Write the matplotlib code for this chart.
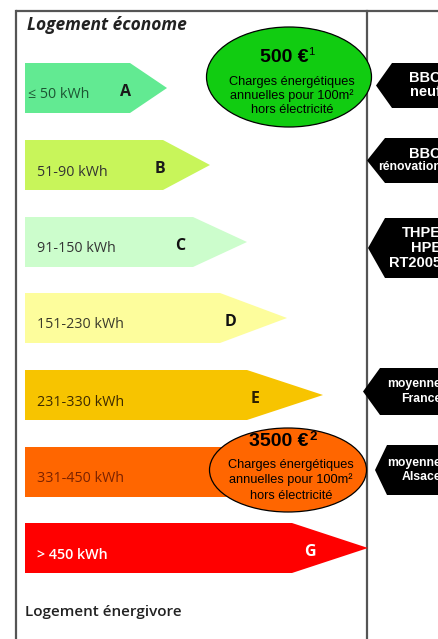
import matplotlib
matplotlib.use("Agg")
import matplotlib.pyplot as plt
from matplotlib.patches import Polygon, Ellipse

# ---- data ----
classes = ["A", "B", "C", "D", "E", "F", "G"]
ranges = ["≤ 50 kWh", "51-90 kWh", "91-150 kWh", "151-230 kWh",
          "231-330 kWh", "331-450 kWh", "> 450 kWh"]
fill_colors = ["#62ea92", "#c8f55a", "#ccfdcc", "#fdfd9c", "#f7c400", "#ff6600", "#ff0000"]
range_colors = ["#1d5533", "#333333", "#333333", "#3a3a2a", "#3d2a00", "#7a2200", "#ffffff"]
letter_colors = ["#1a1a1a", "#1a1a1a", "#111111", "#111111", "#2a1e00", "#2a1000", "#ffffff"]

markers = [["BBC", "neuf"], ["BBC", "rénovation"], ["THPE", "HPE", "RT2005"],
           ["moyenne", "France"], ["moyenne", "Alsace"]]
bubble_amounts = ["500 €", "3500 €"]
bubble_notes = ["1", "2"]
bubble_text = ["Charges énergétiques", "annuelles pour 100m²", "hors électricité"]
title_top = "Logement économe"
title_bottom = "Logement énergivore"

# ---- layout (pixel space) ----
W, H = 438, 639
arrow_top = [63, 140, 217, 293, 370, 447, 523]
arrow_h = 50
arrow_left = 25
body_end = [130, 163, 193, 220, 247, 270, 292]
tip_x = [167, 210, 247, 287, 323, 346, 368]
letter_x = [125, 160, 180, 230, 255, 282, 310]
label_x = [28, 37, 37, 37, 37, 37, 37]

marker_top = [63, 138, 218, 368, 445]
marker_bot = [108, 183, 278, 415, 495]
marker_tip = [376, 367, 368, 363, 375]
marker_corner = [392, 385, 385, 380, 387]

fig = plt.figure(figsize=(W / 100, H / 100), dpi=100)
ax = fig.add_axes([0, 0, 1, 1])
ax.set_xlim(0, W)
ax.set_ylim(H, 0)
ax.axis("off")
fig.patch.set_facecolor("white")

# frame
ax.plot([16, W], [11, 11], color="#555555", lw=1.6, solid_capstyle="butt")
ax.plot([16, 16], [11, H], color="#555555", lw=1.6)
ax.plot([367, 367], [11, H], color="#555555", lw=1.6)

ax.text(27, 25, title_top, fontsize=12.5, fontweight="bold", fontstyle="italic",
        family="Open Sans", color="#222222", va="center", ha="left")
ax.text(25, 612, title_bottom, fontsize=11, fontweight="semibold",
        family="Open Sans", color="#222222", va="center", ha="left")

for i, c in enumerate(classes):
    t = arrow_top[i]
    b = t + arrow_h
    m = (t + b) / 2
    poly = Polygon([(arrow_left, t), (body_end[i], t), (tip_x[i], m),
                    (body_end[i], b), (arrow_left, b)], closed=True,
                   facecolor=fill_colors[i], edgecolor="none", zorder=2)
    ax.add_patch(poly)
    ax.text(label_x[i], m + 7, ranges[i], fontsize=10.3, family="Open Sans",
            color=range_colors[i], ha="left", va="center", zorder=3,
            fontweight="semibold" if i == 6 else "normal")
    ax.text(letter_x[i], m + 4, c, fontsize=11.5, fontweight="bold", family="Open Sans",
            color=letter_colors[i], ha="center", va="center", zorder=3)

# marker arrows on right
for j, lines in enumerate(markers):
    t, b = marker_top[j], marker_bot[j]
    m = (t + b) / 2
    poly = Polygon([(marker_corner[j], t), (W + 5, t), (W + 5, b),
                    (marker_corner[j], b), (marker_tip[j], m)], closed=True,
                   facecolor="black", edgecolor="none", zorder=2)
    ax.add_patch(poly)
    n = len(lines)
    step = 14 if n == 2 else 15
    y0 = m - step * (n - 1) / 2
    for k, s in enumerate(lines):
        small = s in ("rénovation", "moyenne", "France", "Alsace")
        ax.text(W + 3, y0 + k * step, s, fontsize=8.8 if small else 10.5,
                fontweight="bold", family="Liberation Sans", color="white",
                ha="right", va="center", zorder=3)

# bubbles
bubbles = [dict(cx=289, cy=77, w=165, h=100, color="#11cc11", amt_y=57, note_x=311,
                text_y=[82, 96, 110]),
           dict(cx=288, cy=470, w=157, h=84, color="#ff6600", amt_y=442, note_x=313,
                text_y=[465, 480, 496])]
for bi, bd in enumerate(bubbles):
    e = Ellipse((bd["cx"], bd["cy"]), bd["w"], bd["h"], facecolor=bd["color"],
                edgecolor="black", lw=0.9, zorder=4)
    ax.add_patch(e)
    ax.text(bd["cx"] - 5 - 4 * bi, bd["amt_y"], bubble_amounts[bi], fontsize=14, fontweight="bold",
            family="Liberation Sans", color="black", ha="center", va="center", zorder=5)
    ax.text(bd["note_x"], bd["amt_y"] - 5, bubble_notes[bi], fontsize=8 if bi == 0 else 9.5,
            fontweight="normal" if bi == 0 else "bold",
            family="Liberation Sans", color="black", ha="center", va="center", zorder=5)
    for k, s in enumerate(bubble_text):
        ax.text(bd["cx"] + 3, bd["text_y"][k], s, fontsize=9.2, family="Liberation Sans",
                color="black", ha="center", va="center", zorder=5)

fig.savefig("out.png", dpi=100, facecolor="white")
